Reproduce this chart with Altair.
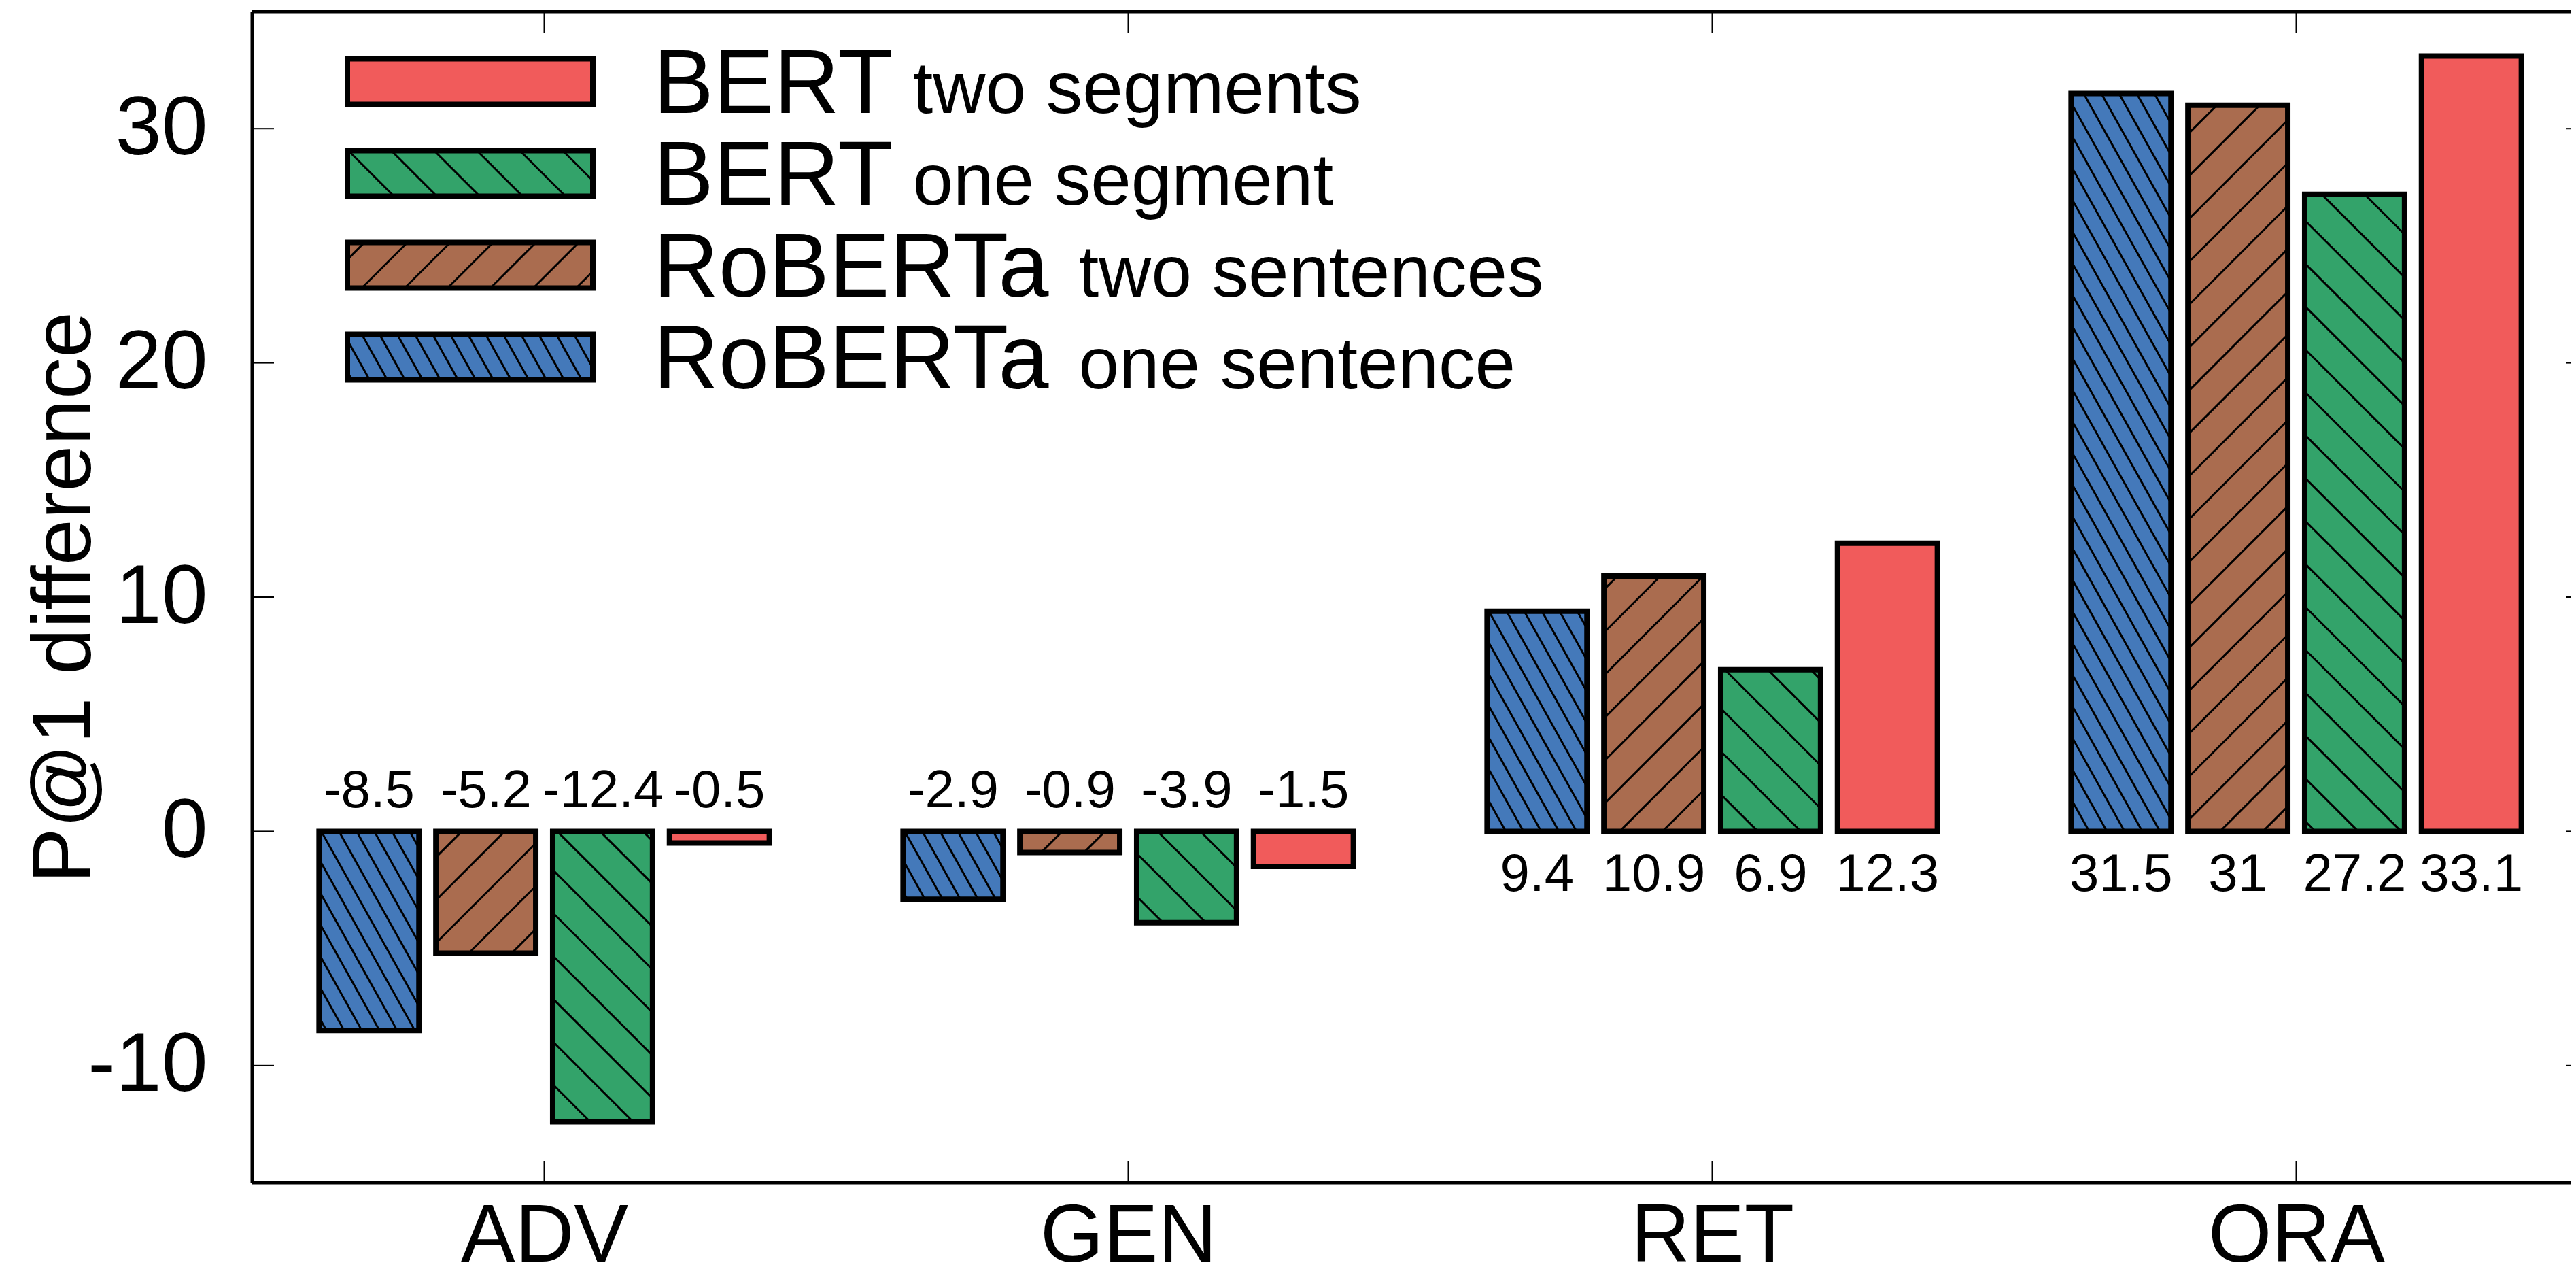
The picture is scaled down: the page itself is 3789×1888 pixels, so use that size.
import numpy as np
import pandas as pd
import altair as alt

# ---------------- data ----------------
categories = ["ADV", "GEN", "RET", "ORA"]
series = ["RoBERTa one sentence", "RoBERTa two sentences", "BERT one segment", "BERT two segments"]
roberta_one = [-8.5, -2.9, 9.4, 31.5]
roberta_two = [-5.2, -0.9, 10.9, 31.0]
bert_one = [-12.4, -3.9, 6.9, 27.2]
bert_two = [-0.5, -1.5, 12.3, 33.1]
values = [roberta_one, roberta_two, bert_one, bert_two]
y_ticks = [-10, 0, 10, 20, 30]
y_title = "P@1 difference"

legend_series = [3, 2, 1, 0]          # legend rows, top to bottom (index into series)
legend_big = ["BERT", "BERT", "RoBERTa", "RoBERTa"]
legend_small = ["two segments", "one segment", "two sentences", "one sentence"]

# ---------------- styles / layout ----------------
colors = ["#4479BA", "#AA6C4F", "#33A36A", "#F15B5B"]
hatches = [(60.8, 22.7), (-45.0, 44.6), (45.0, 44.6), None]   # (angle deg, spacing px)
FONT = "Liberation Sans"

PLOT_LEFT, PLOT_TOP = 371, 17
STEP_PX = 859.0                     # px per category
W, H = 3781 - PLOT_LEFT, 1722
XMIN = -0.5
XMAX = XMIN + W / STEP_PX           # the frame's right edge (x=3.5) falls just outside the page
XFRAME = 3.5
YMIN, YMAX = -15.0, 35.0
BAR_STEP, BAR_W = 0.2, 0.171
TICK = 32

def x_to_px(x): return (x - XMIN) * W / (XMAX - XMIN)
def y_to_py(y): return (YMAX - y) * H / (YMAX - YMIN)
def px_to_x(px): return XMIN + px * (XMAX - XMIN) / W
def py_to_y(py): return YMAX - py * (YMAX - YMIN) / H

def hatch(x0, y0, x1, y1, ang, d):
    a = np.radians(ang)
    ux, uy = np.cos(a), np.sin(a)
    nx, ny = -uy, ux
    cs = [nx * px + ny * py for px in (x0, x1) for py in (y0, y1)]
    segs = []
    for k in range(int(np.ceil(min(cs) / d)), int(np.floor(max(cs) / d)) + 1):
        c = k * d
        bx, by = nx * c, ny * c
        lo, hi = -1e9, 1e9
        for b, u, mn, mx in ((bx, ux, x0, x1), (by, uy, y0, y1)):
            if abs(u) < 1e-12:
                if b < mn or b > mx:
                    lo, hi = 1, 0
            else:
                t1, t2 = (mn - b) / u, (mx - b) / u
                lo = max(lo, min(t1, t2))
                hi = min(hi, max(t1, t2))
        if hi - lo > 0.5:
            segs.append((px_to_x(bx + lo * ux), py_to_y(by + lo * uy),
                         px_to_x(bx + hi * ux), py_to_y(by + hi * uy)))
    return segs

# bars
bar_rows, hatch_rows, label_rows = [], [], []
for i, cat in enumerate(categories):
    for k, s in enumerate(series):
        v = values[k][i]
        xc = i + (k - 1.5) * BAR_STEP
        x0, x1 = xc - BAR_W / 2, xc + BAR_W / 2
        bar_rows.append(dict(cat=cat, series=s, v=v, zero=0.0, x0=x0, x1=x1))
        label_rows.append(dict(xc=xc, y=0.0, v=v, text=f"{v:g}"))
        if hatches[k]:
            ang, d = hatches[k]
            px0, px1 = x_to_px(x0), x_to_px(x1)
            py0, py1 = sorted([y_to_py(v), y_to_py(0.0)])
            for a_, b_, c_, d_ in hatch(px0, py0, px1, py1, ang, d):
                hatch_rows.append(dict(x=a_, y=b_, x2=c_, y2=d_))
bars = pd.DataFrame(bar_rows)
hatch_df = pd.DataFrame(hatch_rows)
labels = pd.DataFrame(label_rows)

# legend (page px layout -> data coords)
LEG_X0, LEG_X1 = 511 - PLOT_LEFT, 872 - PLOT_LEFT
LEG_ROWS = [120, 255, 390, 525]
LEG_H = 67
BIG_FS, SMALL_FS = 133, 107
TEXT_X = 961 - PLOT_LEFT
cw = {"B": .667, "E": .667, "R": .722, "T": .611, "o": .556, "a": .556}
leg_rect, leg_hatch, leg_text_big, leg_text_small = [], [], [], []
for r, k in enumerate(legend_series):
    cy = LEG_ROWS[r] - PLOT_TOP
    py0, py1 = cy - LEG_H / 2, cy + LEG_H / 2
    leg_rect.append(dict(series=series[k], x0=px_to_x(LEG_X0), x1=px_to_x(LEG_X1),
                         y0=py_to_y(py0), y1=py_to_y(py1)))
    if hatches[k]:
        ang, d = hatches[k]
        for a_, b_, c_, d_ in hatch(LEG_X0, py0, LEG_X1, py1, ang, d):
            leg_hatch.append(dict(x=a_, y=b_, x2=c_, y2=d_))
    base = cy + 46
    leg_text_big.append(dict(x=px_to_x(TEXT_X), y=py_to_y(base), text=legend_big[r]))
    wbig = sum(cw[ch] for ch in legend_big[r]) * BIG_FS
    leg_text_small.append(dict(x=px_to_x(TEXT_X + wbig + 0.25 * SMALL_FS), y=py_to_y(base),
                               text=legend_small[r]))
leg_rect = pd.DataFrame(leg_rect)
leg_hatch = pd.DataFrame(leg_hatch)
leg_text_big = pd.DataFrame(leg_text_big)
leg_text_small = pd.DataFrame(leg_text_small)

# ticks (inward, mirrored)
tick_rows = []
dx = TICK * (XMAX - XMIN) / W
dy = TICK * (YMAX - YMIN) / H
for t in y_ticks:
    tick_rows.append(dict(x=XMIN, x2=XMIN + dx, y=t, y2=t))
    tick_rows.append(dict(x=XFRAME, x2=XFRAME - dx, y=t, y2=t))
for i in range(len(categories)):
    tick_rows.append(dict(x=i, x2=i, y=YMIN, y2=YMIN + dy))
    tick_rows.append(dict(x=i, x2=i, y=YMAX, y2=YMAX - dy))
ticks = pd.DataFrame(tick_rows)

# frame (border)
frame = pd.DataFrame([
    dict(x=XMIN, x2=XMIN, y=YMIN, y2=YMAX),
    dict(x=XFRAME, x2=XFRAME, y=YMIN, y2=YMAX),
    dict(x=XMIN, x2=XFRAME, y=YMIN, y2=YMIN),
    dict(x=XMIN, x2=XFRAME, y=YMAX, y2=YMAX),
])

# ---------------- chart ----------------
xs = alt.Scale(domain=[XMIN, XMAX], nice=False, zero=False)
ys = alt.Scale(domain=[YMIN, YMAX], nice=False, zero=False)
fill_scale = alt.Scale(domain=series, range=colors)
cat_expr = "[" + ",".join(f"'{c}'" for c in categories) + "][datum.value]"

x_axis = alt.Axis(values=list(range(len(categories))), labelExpr=cat_expr, title="",
                  grid=False, ticks=False, tickSize=0, domain=False, labelFont=FONT,
                  labelFontSize=120, labelColor="black", labelPadding=20, labelBaseline="top",
                  labelOverlap=False, labelLimit=0, labelFlush=False)
y_axis = alt.Axis(values=y_ticks, labelExpr="'' + datum.value", title=y_title,
                  grid=False, ticks=False, tickSize=0, domain=False, labelFont=FONT,
                  labelFontSize=122, labelColor="black", labelPadding=66, labelOverlap=False,
                  labelLimit=0, labelFlush=False,
                  titleFont=FONT, titleFontSize=122, titleFontWeight="normal",
                  titleColor="black", titleX=-239, titleY=H / 2, titleAngle=270,
                  titleBaseline="alphabetic", titleAlign="center", titleLimit=0)

def X(f): return alt.X(f, scale=xs, axis=x_axis)
def Y(f): return alt.Y(f, scale=ys, axis=y_axis)

bar_fill = alt.Chart(bars).mark_rect(strokeWidth=0).encode(
    x=X("x0:Q"), x2="x1:Q", y=Y("v:Q"), y2="zero:Q",
    fill=alt.Fill("series:N", scale=fill_scale, legend=None))

def rules(df, width):
    return alt.Chart(df).mark_rule(color="black", strokeWidth=width).encode(
        x=X("x:Q"), x2="x2:Q", y=Y("y:Q"), y2="y2:Q")

bar_hatch = rules(hatch_df, 3)
bar_outline = alt.Chart(bars).mark_rect(fillOpacity=0, stroke="black", strokeWidth=8).encode(
    x=X("x0:Q"), x2="x1:Q", y=Y("v:Q"), y2="zero:Q")

lab_neg = alt.Chart(labels).transform_filter("datum.v < 0").mark_text(
    font=FONT, fontSize=78, baseline="alphabetic", align="center", dy=-35, color="black").encode(
    x=X("xc:Q"), y=Y("y:Q"), text="text:N")
lab_pos = alt.Chart(labels).transform_filter("datum.v >= 0").mark_text(
    font=FONT, fontSize=78, baseline="alphabetic", align="center", dy=88, color="black").encode(
    x=X("xc:Q"), y=Y("y:Q"), text="text:N")

tick_layer = rules(ticks, 2)
frame_layer = rules(frame, 5)

leg_fill = alt.Chart(leg_rect).mark_rect(strokeWidth=0).encode(
    x=X("x0:Q"), x2="x1:Q", y=Y("y0:Q"), y2="y1:Q",
    fill=alt.Fill("series:N", scale=fill_scale, legend=None))
leg_h = rules(leg_hatch, 3)
leg_outline = alt.Chart(leg_rect).mark_rect(fillOpacity=0, stroke="black", strokeWidth=8).encode(
    x=X("x0:Q"), x2="x1:Q", y=Y("y0:Q"), y2="y1:Q")
leg_big = alt.Chart(leg_text_big).mark_text(
    font=FONT, fontSize=BIG_FS, align="left", baseline="alphabetic", color="black").encode(
    x=X("x:Q"), y=Y("y:Q"), text="text:N")
leg_small = alt.Chart(leg_text_small).mark_text(
    font=FONT, fontSize=SMALL_FS, align="left", baseline="alphabetic", color="black").encode(
    x=X("x:Q"), y=Y("y:Q"), text="text:N")

chart = alt.layer(
    bar_fill, bar_hatch, bar_outline, lab_neg, lab_pos, tick_layer, frame_layer,
    leg_fill, leg_h, leg_outline, leg_big, leg_small
).properties(
    width=W, height=H, background="white",
    autosize=alt.AutoSizeParams(type="none"),
    padding={"left": PLOT_LEFT - 8, "top": PLOT_TOP - 8, "right": 0, "bottom": 141},
).configure_view(stroke=None)

chart.save("out.html", embed_options={"renderer": "svg", "actions": False})
